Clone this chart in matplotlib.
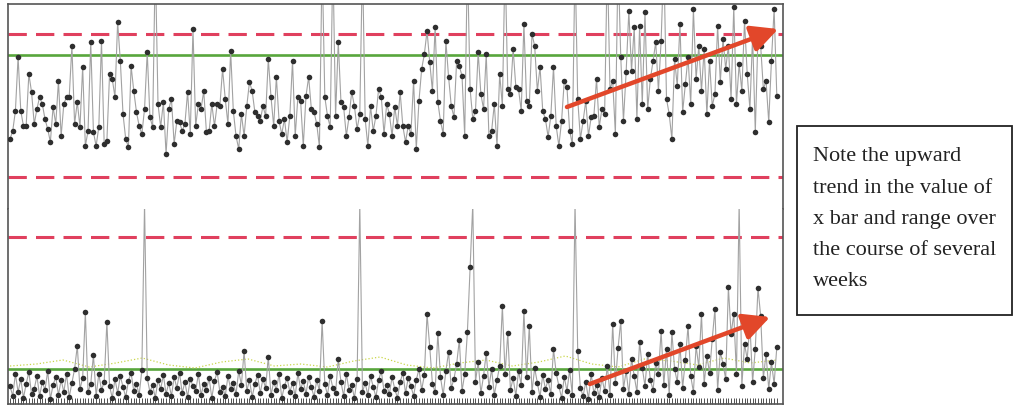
import matplotlib
matplotlib.use("Agg")
import matplotlib.pyplot as plt
import numpy as np
from matplotlib.patches import Rectangle

# ---------------- data (arbitrary units) ----------------
xbar_vals = [
    70, 78, 98, 152, 98, 83, 83, 135, 117, 85,
    100, 112, 105, 90, 80, 67, 102, 85, 128, 73,
    105, 112, 112, 163, 85, 107, 82, 142, 63, 78,
    167, 77, 63, 82, 168, 65, 68, 135, 130, 112,
    187, 148, 95, 70, 62, 143, 118, 97, 83, 75,
    100, 157, 92, 82, 250, 105, 82, 107, 55, 100,
    110, 65, 88, 87, 78, 85, 117, 75, 180, 83,
    105, 100, 118, 77,
    78, 105, 83, 105, 103, 140, 110, 85, 158, 98,
    73, 60, 95, 73, 103, 127, 118, 97, 93, 88,
    103, 93, 150, 112, 83, 132, 88, 75, 90, 67,
    93, 148, 73, 112, 108, 63, 113, 132, 100, 97,
    85, 62, 250, 112, 93, 82, 250, 93, 167, 107,
    102, 73, 92, 117, 103, 80, 95, 250, 90, 63,
    103, 78, 93, 120, 112, 75, 105, 95, 73, 102,
    83, 117, 83, 67, 83, 75, 128, 60, 108, 140,
    155, 178, 147, 118, 182, 107, 88, 75, 168, 132,
    103, 92, 148, 143, 133, 73, 250, 120, 90, 98,
    157, 115, 100, 155, 73, 78, 105, 63, 135, 103,
    250, 120, 115, 160, 122, 120, 98, 185, 108, 103,
    175, 163, 118, 142, 98, 90, 72, 93, 142, 83,
    63, 88, 128, 122, 78, 65, 250, 110, 70, 88,
    108, 73, 92, 93,
    130, 82, 100, 95, 250, 120, 128, 75, 250, 152,
    88, 137, 198, 138, 182, 90, 183, 105, 197, 100,
    130, 148, 167, 118, 168, 250, 110, 95, 70, 150,
    123, 185, 97, 125, 152, 105, 200, 130, 163, 118,
    160, 95, 148, 103, 115, 183, 127, 170, 140, 163,
    110, 202, 105, 145, 118, 188, 135, 100, 173, 77,
    173, 163, 120, 128, 87, 148, 200, 113,
]

range_vals = [
    18, 8, 30, 12, 25, 6, 20, 32, 10, 15,
    28, 8, 22, 14, 33, 5, 19, 27, 9, 24,
    12, 30, 7, 21, 35, 58, 15, 26, 92, 12,
    20, 49, 8, 30, 14, 22, 82, 18, 6, 25,
    11, 28, 17, 7, 23, 31, 13, 20, 9, 34,
    200, 26, 12, 19, 6, 24, 15, 29, 10, 21,
    8, 27, 16, 31, 11, 22, 7, 25, 18, 13,
    30, 9, 20, 14, 26, 6, 23, 32, 12, 17,
    8, 28, 15, 21, 10, 33, 19, 53, 13, 24,
    7, 20, 29, 11, 25, 16, 47, 9, 22, 14,
    30, 6, 18, 26, 12, 21, 8, 31, 15, 23,
    10, 27, 17, 7, 24, 13, 83, 20, 9, 28,
    16, 11, 45, 22, 8, 30, 14, 19, 6, 25,
    200, 12, 21, 9, 28, 17, 7, 24, 33, 13,
    19, 10, 27, 15, 6, 22, 31, 11, 26, 18,
    8, 24, 35, 14, 29, 90, 57, 20, 12, 71,
    27, 9, 33, 52, 16, 25, 40, 64, 13, 30,
    72, 137, 200, 22, 42, 11, 28, 51, 17, 35,
    9, 24, 38, 98, 30, 71, 14, 26, 8, 33,
    19, 93, 27, 78, 12, 36, 21, 7, 29, 15,
    24, 10, 55, 31, 18, 6, 27, 13, 34, 9,
    200, 53, 16, 8, 22, 5, 30, 11, 19, 7,
    26, 13, 38, 9, 80, 21, 56, 83, 15, 33,
    10, 45, 28, 12, 62, 36, 18, 50, 24, 14,
    41, 30, 73, 19, 55, 9, 72, 35, 22, 60,
    16, 44, 78, 28, 12, 58, 37, 90, 20, 48,
    31, 65, 95, 14, 52, 40, 25, 117, 70, 90,
    30, 200, 18, 60, 45, 80, 22, 55, 116, 88,
    26, 50, 15, 42, 20, 57,
]

# dotted trace just above the range centre line
range_trace = [38, 40, 44, 37, 41, 46, 39, 36, 42, 45, 38, 40, 37, 43, 47,
               39, 36, 41, 44, 38, 42, 48, 40, 37, 45, 43, 39, 46, 41, 44]

xbar_ucl, xbar_cl, xbar_lcl = 175, 154, 32
range_ucl, range_cl = 167, 35

note_lines = ["Note the upward", "trend in the value of",
              "x bar and range over", "the course of several", "weeks"]

# ---------------- styling ----------------
RED = "#e0405e"
GREEN = "#58a63c"
LINE = "#a2a2a2"
DOT = "#2e2e2e"
ARROW = "#e2472a"
SPINE = "#555555"

fig = plt.figure(figsize=(10.16, 4.10), dpi=100)
L, W = 8 / 1016, 775 / 1016
ax1 = fig.add_axes([L, 200 / 410, W, 205 / 410])
ax2 = fig.add_axes([L, 5 / 410, W, 195 / 410])

x1 = np.arange(len(xbar_vals))
x2 = np.arange(len(range_vals))
N = max(len(xbar_vals), len(range_vals))

for ax, x, v in ((ax1, x1, xbar_vals), (ax2, x2, range_vals)):
    ax.plot(x, v, color=LINE, lw=0.8, zorder=2)
    ax.plot(x, v, "o", ms=4.0, color=DOT, mec="none", zorder=3)
    ax.set_xlim(-0.75, N + 1.3)
    for s in ax.spines.values():
        s.set_color(SPINE)
        s.set_linewidth(1.2)

dash = (0, (6, 3))
ax1.axhline(xbar_ucl, color=RED, lw=2.2, ls=dash, zorder=1)
ax1.axhline(xbar_lcl, color=RED, lw=2.2, ls=dash, zorder=1)
ax1.axhline(xbar_cl, color=GREEN, lw=1.9, zorder=1)
ax2.axhline(range_ucl, color=RED, lw=2.2, ls=dash, zorder=1)
ax2.axhline(range_cl, color=GREEN, lw=1.9, zorder=1)
xt = np.linspace(0, N - 1, len(range_trace))
ax2.plot(xt, range_trace, color="#c9d64a", lw=0.9, ls=":", zorder=1)

ax1.set_ylim(0, 205)
ax2.set_ylim(0, 195)
ax1.spines["bottom"].set_visible(False)
ax2.spines["top"].set_visible(False)
ax1.set_xticks([])
ax1.set_yticks([])
ax2.set_yticks([])
ax2.set_xticks(x2)
ax2.tick_params(axis="x", direction="in", length=4, width=0.6, colors="#333333",
                labelbottom=False)

# trend arrows
ax1.annotate("", xy=(285.5, 180), xytext=(207, 102), annotation_clip=False,
             arrowprops=dict(arrowstyle="-|>,head_length=0.9,head_width=0.45",
                             color=ARROW, lw=3.2, mutation_scale=18,
                             shrinkA=0, shrinkB=0), zorder=5)
ax2.annotate("", xy=(282.5, 87), xytext=(215.5, 20), annotation_clip=False,
             arrowprops=dict(arrowstyle="-|>,head_length=0.9,head_width=0.45",
                             color=ARROW, lw=3.2, mutation_scale=18,
                             shrinkA=0, shrinkB=0), zorder=5)

# note box
fig.patches.append(Rectangle((797 / 1016, 94 / 410), 215 / 1016, 189 / 410,
                             transform=fig.transFigure, fill=False,
                             ec="#222222", lw=1.3))
for k, line in enumerate(note_lines):
    fig.text(813 / 1016, 1 - (157 + 31.25 * k) / 410, line, fontsize=16,
             family="Liberation Serif", va="center", ha="left", color="#222222")

fig.savefig("out.png", dpi=100)
